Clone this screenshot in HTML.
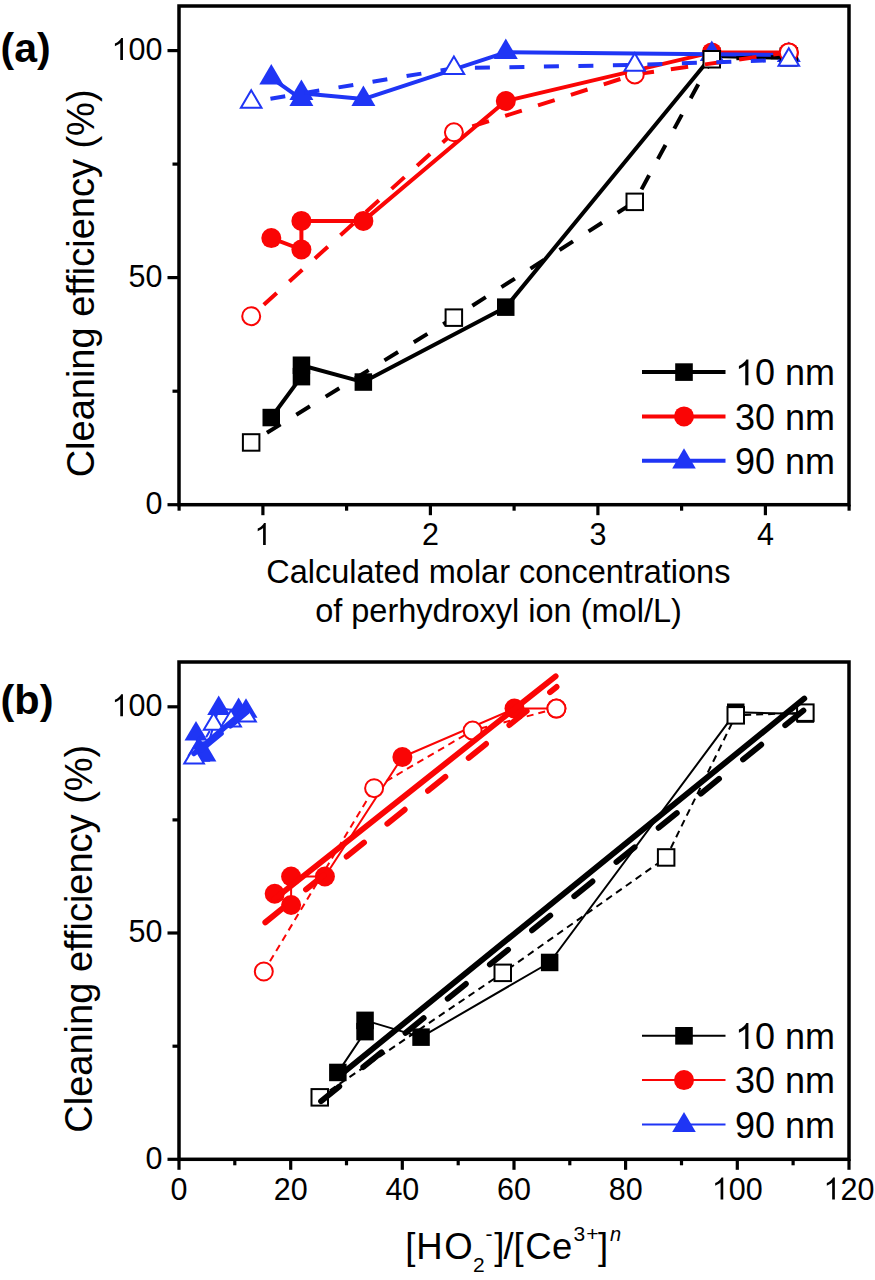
<!DOCTYPE html>
<html><head><meta charset="utf-8"><title>Cleaning efficiency chart</title>
<style>
html,body{margin:0;padding:0;background:#fff;width:875px;height:1280px;overflow:hidden}
svg{display:block}
text{font-family:"Liberation Sans", sans-serif}
</style></head>
<body>
<svg width="875" height="1280" viewBox="0 0 875 1280">
<g font-family='"Liberation Sans", sans-serif' fill="#000">
<rect x="179" y="6.0" width="670" height="498.7" fill="none" stroke="#000" stroke-width="3.5"/>
<line x1="167.5" y1="504.7" x2="179.0" y2="504.7" stroke="#000" stroke-width="3.2" stroke-linecap="butt"/>
<line x1="167.5" y1="277.6" x2="179.0" y2="277.6" stroke="#000" stroke-width="3.2" stroke-linecap="butt"/>
<line x1="167.5" y1="50.6" x2="179.0" y2="50.6" stroke="#000" stroke-width="3.2" stroke-linecap="butt"/>
<line x1="172.5" y1="391.2" x2="179.0" y2="391.2" stroke="#000" stroke-width="3.2" stroke-linecap="butt"/>
<line x1="172.5" y1="164.1" x2="179.0" y2="164.1" stroke="#000" stroke-width="3.2" stroke-linecap="butt"/>
<line x1="262.9" y1="504.7" x2="262.9" y2="515.2" stroke="#000" stroke-width="3.2" stroke-linecap="butt"/>
<line x1="430.4" y1="504.7" x2="430.4" y2="515.2" stroke="#000" stroke-width="3.2" stroke-linecap="butt"/>
<line x1="597.9" y1="504.7" x2="597.9" y2="515.2" stroke="#000" stroke-width="3.2" stroke-linecap="butt"/>
<line x1="765.4" y1="504.7" x2="765.4" y2="515.2" stroke="#000" stroke-width="3.2" stroke-linecap="butt"/>
<line x1="179.1" y1="504.7" x2="179.1" y2="510.7" stroke="#000" stroke-width="3.2" stroke-linecap="butt"/>
<line x1="346.6" y1="504.7" x2="346.6" y2="510.7" stroke="#000" stroke-width="3.2" stroke-linecap="butt"/>
<line x1="514.1" y1="504.7" x2="514.1" y2="510.7" stroke="#000" stroke-width="3.2" stroke-linecap="butt"/>
<line x1="681.6" y1="504.7" x2="681.6" y2="510.7" stroke="#000" stroke-width="3.2" stroke-linecap="butt"/>
<line x1="849.1" y1="504.7" x2="849.1" y2="510.7" stroke="#000" stroke-width="3.2" stroke-linecap="butt"/>
<text x="145.5" y="514.1" font-size="30.5" xml:space="preserve">0</text>
<text x="128.6" y="287.0" font-size="30.5" xml:space="preserve">50</text>
<path d="M763 0L583 0L583 1147Q518 1085 412 1023Q306 961 222 930L222 1104Q373 1175 486 1276Q599 1377 646 1472L763 1472Z" transform="translate(111.6,60.0) scale(0.01489,-0.01489)"/>
<text x="128.6" y="60.0" font-size="30.5" xml:space="preserve">00</text>
<path d="M763 0L583 0L583 1147Q518 1085 412 1023Q306 961 222 930L222 1104Q373 1175 486 1276Q599 1377 646 1472L763 1472Z" transform="translate(254.4,545.0) scale(0.01489,-0.01489)"/>
<text x="421.9" y="545.0" font-size="30.5" xml:space="preserve">2</text>
<text x="589.4" y="545.0" font-size="30.5" xml:space="preserve">3</text>
<text x="756.9" y="545.0" font-size="30.5" xml:space="preserve">4</text>
<rect x="179" y="662.0" width="670" height="497.3" fill="none" stroke="#000" stroke-width="3.5"/>
<line x1="167.5" y1="1159.3" x2="179.0" y2="1159.3" stroke="#000" stroke-width="3.2" stroke-linecap="butt"/>
<line x1="167.5" y1="933.0" x2="179.0" y2="933.0" stroke="#000" stroke-width="3.2" stroke-linecap="butt"/>
<line x1="167.5" y1="706.8" x2="179.0" y2="706.8" stroke="#000" stroke-width="3.2" stroke-linecap="butt"/>
<line x1="172.5" y1="1046.2" x2="179.0" y2="1046.2" stroke="#000" stroke-width="3.2" stroke-linecap="butt"/>
<line x1="172.5" y1="819.9" x2="179.0" y2="819.9" stroke="#000" stroke-width="3.2" stroke-linecap="butt"/>
<line x1="179.0" y1="1159.3" x2="179.0" y2="1169.8" stroke="#000" stroke-width="3.2" stroke-linecap="butt"/>
<line x1="290.7" y1="1159.3" x2="290.7" y2="1169.8" stroke="#000" stroke-width="3.2" stroke-linecap="butt"/>
<line x1="402.3" y1="1159.3" x2="402.3" y2="1169.8" stroke="#000" stroke-width="3.2" stroke-linecap="butt"/>
<line x1="514.0" y1="1159.3" x2="514.0" y2="1169.8" stroke="#000" stroke-width="3.2" stroke-linecap="butt"/>
<line x1="625.6" y1="1159.3" x2="625.6" y2="1169.8" stroke="#000" stroke-width="3.2" stroke-linecap="butt"/>
<line x1="737.3" y1="1159.3" x2="737.3" y2="1169.8" stroke="#000" stroke-width="3.2" stroke-linecap="butt"/>
<line x1="849.0" y1="1159.3" x2="849.0" y2="1169.8" stroke="#000" stroke-width="3.2" stroke-linecap="butt"/>
<line x1="234.8" y1="1159.3" x2="234.8" y2="1165.3" stroke="#000" stroke-width="3.2" stroke-linecap="butt"/>
<line x1="346.5" y1="1159.3" x2="346.5" y2="1165.3" stroke="#000" stroke-width="3.2" stroke-linecap="butt"/>
<line x1="458.2" y1="1159.3" x2="458.2" y2="1165.3" stroke="#000" stroke-width="3.2" stroke-linecap="butt"/>
<line x1="569.8" y1="1159.3" x2="569.8" y2="1165.3" stroke="#000" stroke-width="3.2" stroke-linecap="butt"/>
<line x1="681.5" y1="1159.3" x2="681.5" y2="1165.3" stroke="#000" stroke-width="3.2" stroke-linecap="butt"/>
<line x1="793.1" y1="1159.3" x2="793.1" y2="1165.3" stroke="#000" stroke-width="3.2" stroke-linecap="butt"/>
<text x="145.5" y="1168.7" font-size="30.5" xml:space="preserve">0</text>
<text x="128.6" y="942.4" font-size="30.5" xml:space="preserve">50</text>
<path d="M763 0L583 0L583 1147Q518 1085 412 1023Q306 961 222 930L222 1104Q373 1175 486 1276Q599 1377 646 1472L763 1472Z" transform="translate(111.6,716.2) scale(0.01489,-0.01489)"/>
<text x="128.6" y="716.2" font-size="30.5" xml:space="preserve">00</text>
<text x="170.5" y="1199.5" font-size="30.5" xml:space="preserve">0</text>
<text x="273.7" y="1199.5" font-size="30.5" xml:space="preserve">20</text>
<text x="385.4" y="1199.5" font-size="30.5" xml:space="preserve">40</text>
<text x="497.0" y="1199.5" font-size="30.5" xml:space="preserve">60</text>
<text x="608.7" y="1199.5" font-size="30.5" xml:space="preserve">80</text>
<path d="M763 0L583 0L583 1147Q518 1085 412 1023Q306 961 222 930L222 1104Q373 1175 486 1276Q599 1377 646 1472L763 1472Z" transform="translate(711.9,1199.5) scale(0.01489,-0.01489)"/>
<text x="728.8" y="1199.5" font-size="30.5" xml:space="preserve">00</text>
<path d="M763 0L583 0L583 1147Q518 1085 412 1023Q306 961 222 930L222 1104Q373 1175 486 1276Q599 1377 646 1472L763 1472Z" transform="translate(823.5,1199.5) scale(0.01489,-0.01489)"/>
<text x="840.5" y="1199.5" font-size="30.5" xml:space="preserve">20</text>
<text x="0.5" y="61.5" font-size="41" text-anchor="start" font-weight="bold">(a)</text>
<text x="0.5" y="714.0" font-size="41.5" text-anchor="start" font-weight="bold">(b)</text>
<text x="0" y="0" font-size="38" text-anchor="middle" transform="translate(94.2,283.4) rotate(-90)">Cleaning efficiency (%)</text>
<text x="0" y="0" font-size="38" text-anchor="middle" transform="translate(92,938.7) rotate(-90)">Cleaning efficiency (%)</text>
<text x="498.3" y="582.5" font-size="32.5" text-anchor="middle" font-weight="normal">Calculated molar concentrations</text>
<text x="498.5" y="622.3" font-size="32.5" text-anchor="middle" font-weight="normal">of perhydroxyl ion (mol/L)</text>
<text x="405.2" y="1258.8" font-size="36.5">[</text>
<text x="416.2" y="1258.8" font-size="36.5">H</text>
<text x="444.3" y="1258.8" font-size="36.5">O</text>
<text x="472.9" y="1271.5" font-size="21">2</text>
<text x="485.5" y="1241.2" font-size="21">-</text>
<text x="494.3" y="1258.8" font-size="36.5">]</text>
<text x="503.6" y="1258.8" font-size="36.5">/</text>
<text x="513.4" y="1258.8" font-size="36.5">[</text>
<text x="525.35" y="1258.8" font-size="36.5">C</text>
<text x="552.05" y="1258.8" font-size="36.5">e</text>
<text x="573.6" y="1240.6" font-size="21">3</text>
<text x="586.2" y="1240.6" font-size="21">+</text>
<text x="598.1" y="1258.8" font-size="36.5">]</text>
<text x="610.1" y="1240.8" font-size="20" font-style="italic">n</text>
</g>
<g>
<polyline points="271.3,417.5 301.4,376.6 301.4,365.3 363.4,382.1 505.8,307.2 711.8,56.0 788.8,57.9" fill="none" stroke="#000" stroke-width="4" stroke-linecap="butt" stroke-linejoin="round"/>
<rect x="262.5" y="408.8" width="17.5" height="17.5" fill="#000"/>
<rect x="292.7" y="367.9" width="17.5" height="17.5" fill="#000"/>
<rect x="292.7" y="356.5" width="17.5" height="17.5" fill="#000"/>
<rect x="354.6" y="373.3" width="17.5" height="17.5" fill="#000"/>
<rect x="497.0" y="298.4" width="17.5" height="17.5" fill="#000"/>
<rect x="703.0" y="47.3" width="17.5" height="17.5" fill="#000"/>
<rect x="780.1" y="49.1" width="17.5" height="17.5" fill="#000"/>
<polyline points="271.3,238.1 301.4,249.5 301.4,220.9 363.4,220.9 505.8,101.0 711.8,52.4 788.8,52.4" fill="none" stroke="#fa0505" stroke-width="4" stroke-linecap="butt" stroke-linejoin="round"/>
<circle cx="271.3" cy="238.1" r="10.0" fill="#fa0505"/>
<circle cx="301.4" cy="249.5" r="10.0" fill="#fa0505"/>
<circle cx="301.4" cy="220.9" r="10.0" fill="#fa0505"/>
<circle cx="363.4" cy="220.9" r="10.0" fill="#fa0505"/>
<circle cx="505.8" cy="101.0" r="10.0" fill="#fa0505"/>
<circle cx="711.8" cy="52.4" r="10.0" fill="#fa0505"/>
<circle cx="788.8" cy="52.4" r="10.0" fill="#fa0505"/>
<polyline points="271.3,77.8 301.4,99.2 301.4,93.2 363.4,99.1 505.8,52.3 711.8,54.2 788.8,55.1" fill="none" stroke="#1f35f5" stroke-width="4" stroke-linecap="butt" stroke-linejoin="round"/>
<polygon points="271.3,64.1 283.3,84.6 259.3,84.6" fill="#1f35f5"/>
<polygon points="301.4,85.5 313.4,106.0 289.4,106.0" fill="#1f35f5"/>
<polygon points="301.4,79.5 313.4,100.0 289.4,100.0" fill="#1f35f5"/>
<polygon points="363.4,85.4 375.4,105.9 351.4,105.9" fill="#1f35f5"/>
<polygon points="505.8,38.6 517.8,59.1 493.8,59.1" fill="#1f35f5"/>
<polygon points="711.8,40.6 723.8,61.1 699.8,61.1" fill="#1f35f5"/>
<polygon points="788.8,41.5 800.8,62.0 776.8,62.0" fill="#1f35f5"/>
<polyline points="251.2,442.5 453.9,317.6 634.8,201.8 711.8,59.2 788.8,56.5" fill="none" stroke="#000" stroke-width="4" stroke-linecap="butt" stroke-linejoin="round" stroke-dasharray="16 18.5" stroke-dashoffset="16"/>
<rect x="242.9" y="434.2" width="16.5" height="16.5" fill="#fff" stroke="#000" stroke-width="2"/>
<rect x="445.6" y="309.4" width="16.5" height="16.5" fill="#fff" stroke="#000" stroke-width="2"/>
<rect x="626.5" y="193.6" width="16.5" height="16.5" fill="#fff" stroke="#000" stroke-width="2"/>
<rect x="703.5" y="51.0" width="16.5" height="16.5" fill="#fff" stroke="#000" stroke-width="2"/>
<rect x="780.6" y="48.3" width="16.5" height="16.5" fill="#fff" stroke="#000" stroke-width="2"/>
<polyline points="251.2,316.2 453.9,132.3 634.8,74.4 788.8,52.4" fill="none" stroke="#fa0505" stroke-width="4" stroke-linecap="butt" stroke-linejoin="round" stroke-dasharray="17.5 17" stroke-dashoffset="17.5"/>
<circle cx="251.2" cy="316.2" r="9.0" fill="#fff" stroke="#fa0505" stroke-width="2"/>
<circle cx="453.9" cy="132.3" r="9.0" fill="#fff" stroke="#fa0505" stroke-width="2"/>
<circle cx="634.8" cy="74.4" r="9.0" fill="#fff" stroke="#fa0505" stroke-width="2"/>
<circle cx="788.8" cy="52.4" r="9.0" fill="#fff" stroke="#fa0505" stroke-width="2"/>
<polyline points="251.2,101.9 453.9,68.2 634.8,64.9 788.8,59.8" fill="none" stroke="#1f35f5" stroke-width="4" stroke-linecap="butt" stroke-linejoin="round" stroke-dasharray="15 19.5" stroke-dashoffset="15"/>
<polygon points="251.2,90.2 261.5,107.7 240.9,107.7" fill="#fff" stroke="#1f35f5" stroke-width="2" stroke-linejoin="miter"/>
<polygon points="453.9,56.5 464.2,74.0 443.6,74.0" fill="#fff" stroke="#1f35f5" stroke-width="2" stroke-linejoin="miter"/>
<polygon points="634.8,53.2 645.0,70.7 624.5,70.7" fill="#fff" stroke="#1f35f5" stroke-width="2" stroke-linejoin="miter"/>
<polygon points="788.8,48.2 799.1,65.7 778.5,65.7" fill="#fff" stroke="#1f35f5" stroke-width="2" stroke-linejoin="miter"/>
</g>
<g>
<polyline points="337.9,1072.4 365.1,1031.7 365.1,1020.4 421.1,1037.1 549.7,962.5 735.8,712.2 805.4,714.0" fill="none" stroke="#000" stroke-width="2" stroke-linecap="butt" stroke-linejoin="round"/>
<rect x="329.1" y="1063.7" width="17.5" height="17.5" fill="#000"/>
<rect x="356.3" y="1022.9" width="17.5" height="17.5" fill="#000"/>
<rect x="356.3" y="1011.6" width="17.5" height="17.5" fill="#000"/>
<rect x="412.3" y="1028.4" width="17.5" height="17.5" fill="#000"/>
<rect x="540.9" y="953.7" width="17.5" height="17.5" fill="#000"/>
<rect x="727.0" y="703.5" width="17.5" height="17.5" fill="#000"/>
<rect x="796.6" y="705.3" width="17.5" height="17.5" fill="#000"/>
<polyline points="274.7,893.7 291.1,905.0 291.1,876.5 324.9,876.5 402.4,757.0 514.5,708.6 556.4,708.6" fill="none" stroke="#fa0505" stroke-width="2" stroke-linecap="butt" stroke-linejoin="round"/>
<circle cx="274.7" cy="893.7" r="10.0" fill="#fa0505"/>
<circle cx="291.1" cy="905.0" r="10.0" fill="#fa0505"/>
<circle cx="291.1" cy="876.5" r="10.0" fill="#fa0505"/>
<circle cx="324.9" cy="876.5" r="10.0" fill="#fa0505"/>
<circle cx="402.4" cy="757.0" r="10.0" fill="#fa0505"/>
<circle cx="514.5" cy="708.6" r="10.0" fill="#fa0505"/>
<circle cx="556.4" cy="708.6" r="10.0" fill="#fa0505"/>
<polyline points="196.0,733.9 198.9,755.2 198.9,749.2 204.9,755.1 218.7,708.5 238.6,710.4 246.0,711.3" fill="none" stroke="#1f35f5" stroke-width="2" stroke-linecap="butt" stroke-linejoin="round"/>
<polygon points="196.0,720.9 207.5,740.4 184.5,740.4" fill="#1f35f5"/>
<polygon points="198.9,742.2 210.4,761.7 187.4,761.7" fill="#1f35f5"/>
<polygon points="198.9,736.2 210.4,755.7 187.4,755.7" fill="#1f35f5"/>
<polygon points="204.9,742.1 216.4,761.6 193.4,761.6" fill="#1f35f5"/>
<polygon points="218.7,695.5 230.2,715.0 207.2,715.0" fill="#1f35f5"/>
<polygon points="238.6,697.4 250.1,716.9 227.1,716.9" fill="#1f35f5"/>
<polygon points="246.0,698.3 257.5,717.8 234.5,717.8" fill="#1f35f5"/>
<polyline points="319.7,1097.3 502.8,972.9 666.2,857.5 735.8,715.4 805.4,712.7" fill="none" stroke="#000" stroke-width="2" stroke-linecap="butt" stroke-linejoin="round" stroke-dasharray="7 5"/>
<rect x="311.5" y="1089.1" width="16.5" height="16.5" fill="#fff" stroke="#000" stroke-width="2"/>
<rect x="494.5" y="964.6" width="16.5" height="16.5" fill="#fff" stroke="#000" stroke-width="2"/>
<rect x="657.9" y="849.2" width="16.5" height="16.5" fill="#fff" stroke="#000" stroke-width="2"/>
<rect x="727.5" y="707.1" width="16.5" height="16.5" fill="#fff" stroke="#000" stroke-width="2"/>
<rect x="797.1" y="704.4" width="16.5" height="16.5" fill="#fff" stroke="#000" stroke-width="2"/>
<polyline points="263.8,971.5 374.1,788.2 472.6,730.6 556.4,708.6" fill="none" stroke="#fa0505" stroke-width="2" stroke-linecap="butt" stroke-linejoin="round" stroke-dasharray="7 5"/>
<circle cx="263.8" cy="971.5" r="9.0" fill="#fff" stroke="#fa0505" stroke-width="2"/>
<circle cx="374.1" cy="788.2" r="9.0" fill="#fff" stroke="#fa0505" stroke-width="2"/>
<circle cx="472.6" cy="730.6" r="9.0" fill="#fff" stroke="#fa0505" stroke-width="2"/>
<circle cx="556.4" cy="708.6" r="9.0" fill="#fff" stroke="#fa0505" stroke-width="2"/>
<polyline points="194.1,757.9 213.6,724.3 231.1,721.1 246.0,716.0" fill="none" stroke="#1f35f5" stroke-width="2" stroke-linecap="butt" stroke-linejoin="round" stroke-dasharray="7 5"/>
<polygon points="194.1,746.9 203.9,763.4 184.3,763.4" fill="#fff" stroke="#1f35f5" stroke-width="2" stroke-linejoin="miter"/>
<polygon points="213.6,713.3 223.4,729.8 203.8,729.8" fill="#fff" stroke="#1f35f5" stroke-width="2" stroke-linejoin="miter"/>
<polygon points="231.1,710.1 240.9,726.6 221.3,726.6" fill="#fff" stroke="#1f35f5" stroke-width="2" stroke-linejoin="miter"/>
<polygon points="246.0,705.0 255.8,721.5 236.2,721.5" fill="#fff" stroke="#1f35f5" stroke-width="2" stroke-linejoin="miter"/>
<line x1="337.6" y1="1077.2" x2="804.3" y2="698.6" stroke="#000" stroke-width="5.8" stroke-linecap="round"/>
<polyline points="319.5,1102.5 804.3,709.8" fill="none" stroke="#000" stroke-width="5.8" stroke-linecap="round" stroke-linejoin="round" stroke-dasharray="23.5 30.8" stroke-dashoffset="-2"/>
<line x1="274.5" y1="899.0" x2="555.7" y2="676.2" stroke="#fa0505" stroke-width="5.8" stroke-linecap="round"/>
<polyline points="264.5,923.0 556.6,686.9" fill="none" stroke="#fa0505" stroke-width="5.8" stroke-linecap="round" stroke-linejoin="round" stroke-dasharray="22.4 29.9" stroke-dashoffset="-1"/>
<line x1="194.0" y1="753.5" x2="247.0" y2="708.5" stroke="#1f35f5" stroke-width="5.5" stroke-linecap="round"/>
<polyline points="201.0,750.0 247.0,712.0" fill="none" stroke="#1f35f5" stroke-width="5.5" stroke-linecap="round" stroke-linejoin="round" stroke-dasharray="26 12"/>
</g>
<line x1="642.0" y1="372.1" x2="725.5" y2="372.1" stroke="#000" stroke-width="4" stroke-linecap="butt"/>
<rect x="675.2" y="363.3" width="17.6" height="17.6" fill="#000"/>
<path d="M763 0L583 0L583 1147Q518 1085 412 1023Q306 961 222 930L222 1104Q373 1175 486 1276Q599 1377 646 1472L763 1472Z" transform="translate(735.0,385.3) scale(0.01758,-0.01758)"/>
<text x="755.0" y="385.3" font-size="36" xml:space="preserve">0 nm</text>
<line x1="642.0" y1="416.4" x2="725.5" y2="416.4" stroke="#fa0505" stroke-width="4" stroke-linecap="butt"/>
<circle cx="684.0" cy="416.4" r="10.0" fill="#fa0505"/>
<text x="735.0" y="429.6" font-size="36" xml:space="preserve">30 nm</text>
<line x1="642.0" y1="460.7" x2="725.5" y2="460.7" stroke="#1f35f5" stroke-width="4" stroke-linecap="butt"/>
<polygon points="684.0,448.2 695.8,468.4 672.2,468.4" fill="#1f35f5"/>
<text x="735.0" y="473.9" font-size="36" xml:space="preserve">90 nm</text>
<line x1="642.0" y1="1035.8" x2="725.5" y2="1035.8" stroke="#000" stroke-width="2" stroke-linecap="butt"/>
<rect x="675.2" y="1027.0" width="17.6" height="17.6" fill="#000"/>
<path d="M763 0L583 0L583 1147Q518 1085 412 1023Q306 961 222 930L222 1104Q373 1175 486 1276Q599 1377 646 1472L763 1472Z" transform="translate(735.0,1049.0) scale(0.01758,-0.01758)"/>
<text x="755.0" y="1049.0" font-size="36" xml:space="preserve">0 nm</text>
<line x1="642.0" y1="1080.1" x2="725.5" y2="1080.1" stroke="#fa0505" stroke-width="2" stroke-linecap="butt"/>
<circle cx="684.0" cy="1080.1" r="10.0" fill="#fa0505"/>
<text x="735.0" y="1093.3" font-size="36" xml:space="preserve">30 nm</text>
<line x1="642.0" y1="1124.4" x2="725.5" y2="1124.4" stroke="#1f35f5" stroke-width="2" stroke-linecap="butt"/>
<polygon points="684.0,1111.9 695.8,1132.1 672.2,1132.1" fill="#1f35f5"/>
<text x="735.0" y="1137.6" font-size="36" xml:space="preserve">90 nm</text>
</svg>
</body></html>
